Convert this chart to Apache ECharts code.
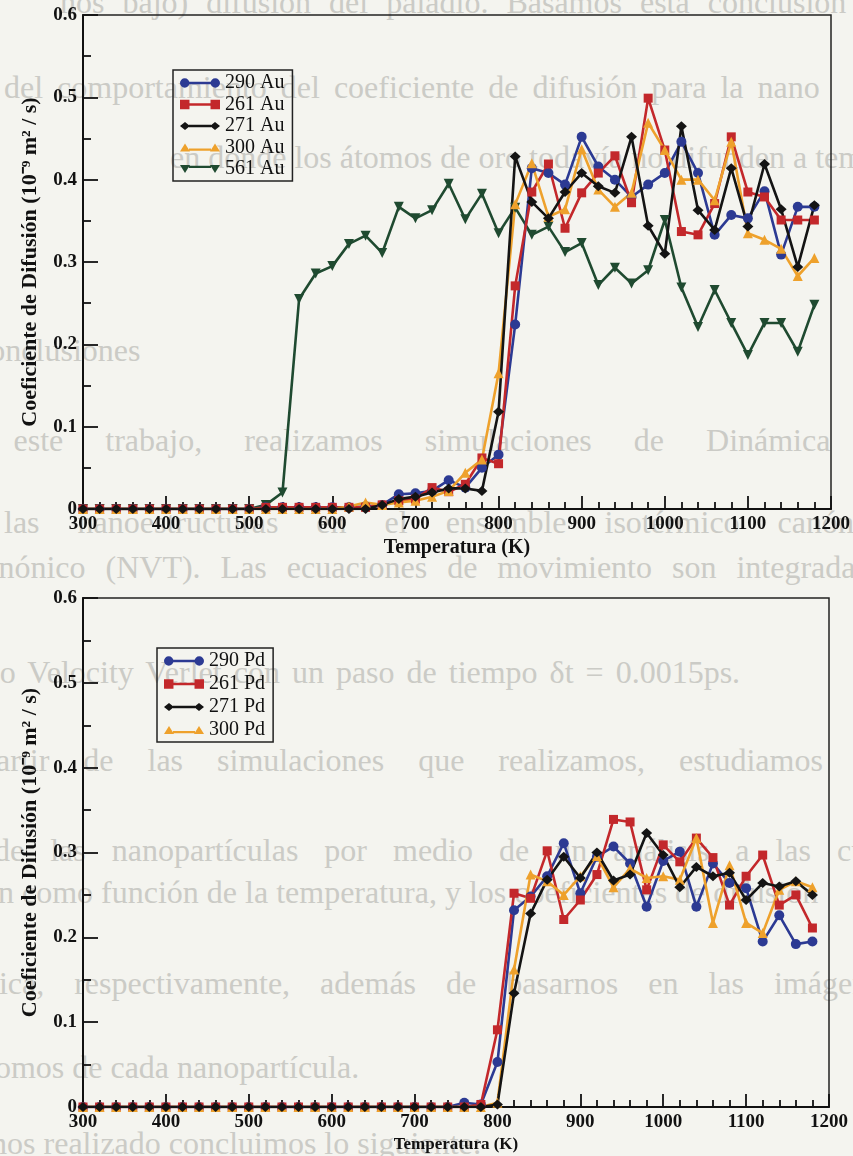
<!DOCTYPE html>
<html>
<head>
<meta charset="utf-8">
<title>Coeficiente de Difusión</title>
<script src="https://cdn.jsdelivr.net/npm/echarts@6/dist/echarts.min.js"></script>
<style>
  html, body { margin: 0; padding: 0; background: #f4f4ef; }
  #page { position: relative; width: 853px; height: 1156px; overflow: hidden; }
  .bg { position: absolute; white-space: nowrap; font-family: 'Liberation Serif', serif;
        font-size: 32px; color: #cbcbc6; line-height: 36px; }
  #chart { position: absolute; left: 0; top: 0; width: 853px; height: 1156px; }
</style>
</head>
<body>
<div id="page">
  <!-- faded text of the scanned page behind the figure -->
  <div class="bg" style="left:60px;top:-16px;word-spacing:10px">ños bajo) difusión del paladio. Basamos esta conclusión</div>
  <div class="bg" style="left:4px;top:69px;word-spacing:6px">del comportamiento del coeficiente de difusión para la nano</div>
  <div class="bg" style="left:170px;top:139px">en donde los átomos de oro todavía no difunden a temperatura</div>
  <div class="bg" style="left:-32px;top:332px">Conclusiones</div>
  <div class="bg" style="left:-64px;top:422px;word-spacing:34px">En este trabajo, realizamos simulaciones de Dinámica Molecular</div>
  <div class="bg" style="left:4px;top:504px;word-spacing:30px">las nanoestructuras en el ensamble isotérmico canónico</div>
  <div class="bg" style="left:-30px;top:549px;word-spacing:12px">canónico (NVT). Las ecuaciones de movimiento son integradas</div>
  <div class="bg" style="left:-34px;top:654px;word-spacing:4px">tipo Velocity Verlet con un paso de tiempo δt = 0.0015ps.</div>
  <div class="bg" style="left:-20px;top:742px;word-spacing:26px">partir de las simulaciones que realizamos, estudiamos la</div>
  <div class="bg" style="left:-6px;top:832px;word-spacing:18px">de las nanopartículas por medio de un análisis a las curvas</div>
  <div class="bg" style="left:-18px;top:874px">ón como función de la temperatura, y los coeficientes de difusión</div>
  <div class="bg" style="left:-26px;top:965px;word-spacing:22px">mica, respectivamente, además de basarnos en las imágenes</div>
  <div class="bg" style="left:-14px;top:1049px">tomos de cada nanopartícula.</div>
  <div class="bg" style="left:-32px;top:1125px">emos realizado concluimos lo siguiente:</div>
  <div id="chart"></div>
</div>
<script>
// Temperatures (K), one point every 20 K
const temps = [300, 320, 340, 360, 380, 400, 420, 440, 460, 480, 500, 520, 540, 560, 580,
  600, 620, 640, 660, 680, 700, 720, 740, 760, 780, 800, 820, 840, 860, 880,
  900, 920, 940, 960, 980, 1000, 1020, 1040, 1060, 1080, 1100, 1120, 1140, 1160, 1180];

// Gold nanoparticles (top panel)
const au290 = [0, 0, 0, 0, 0, 0, 0, 0, 0, 0, 0, 0.002, 0.002, 0.002, 0.002,
  0.002, 0.002, 0.003, 0.005, 0.018, 0.019, 0.022, 0.035, 0.026, 0.05, 0.066, 0.224, 0.414, 0.408, 0.394,
  0.452, 0.416, 0.400, 0.379, 0.394, 0.408, 0.446, 0.408, 0.333, 0.357, 0.353, 0.386, 0.309, 0.367, 0.367];
const au261 = [0, 0, 0, 0, 0, 0, 0, 0, 0, 0, 0, 0.002, 0.002, 0.002, 0.002,
  0.002, 0.002, 0.002, 0.005, 0.01, 0.012, 0.026, 0.021, 0.03, 0.062, 0.055, 0.271, 0.385, 0.419, 0.341,
  0.384, 0.408, 0.429, 0.372, 0.499, 0.436, 0.337, 0.333, 0.371, 0.452, 0.385, 0.379, 0.351, 0.351, 0.351];
const au271 = [0, 0, 0, 0, 0, 0, 0, 0, 0, 0, 0, 0, 0, 0, 0,
  0, 0, 0, 0.005, 0.012, 0.015, 0.02, 0.025, 0.025, 0.022, 0.118, 0.428, 0.373, 0.353, 0.385,
  0.408, 0.392, 0.384, 0.452, 0.344, 0.31, 0.465, 0.363, 0.339, 0.414, 0.343, 0.419, 0.364, 0.294, 0.369];
const au300 = [0, 0, 0, 0, 0, 0, 0, 0, 0, 0, 0, 0, 0, 0, 0,
  0, 0.003, 0.008, 0.005, 0.008, 0.01, 0.015, 0.022, 0.044, 0.06, 0.165, 0.37, 0.42, 0.355, 0.364,
  0.437, 0.388, 0.367, 0.384, 0.469, 0.436, 0.40, 0.40, 0.375, 0.446, 0.335, 0.327, 0.316, 0.283, 0.305];
const au561 = [0, 0, 0, 0, 0, 0, 0, 0, 0, 0, 0, 0.005, 0.02, 0.255, 0.286,
  0.295, 0.322, 0.332, 0.311, 0.367, 0.353, 0.363, 0.395, 0.352, 0.383, 0.335, 0.366, 0.333, 0.343, 0.312,
  0.323, 0.272, 0.293, 0.274, 0.290, 0.351, 0.269, 0.221, 0.266, 0.226, 0.187, 0.226, 0.226, 0.191, 0.248];

// Palladium nanoparticles (bottom panel)
const pd290 = [0, 0, 0, 0, 0, 0, 0, 0, 0, 0, 0, 0, 0, 0, 0,
  0, 0, 0, 0, 0, 0, 0, 0, 0.005, 0.003, 0.053, 0.232, 0.248, 0.272, 0.311,
  0.252, 0.295, 0.307, 0.287, 0.236, 0.29, 0.301, 0.236, 0.287, 0.264, 0.258, 0.195, 0.226, 0.192, 0.195];
const pd261 = [0, 0, 0, 0, 0, 0, 0, 0, 0, 0, 0, 0, 0, 0, 0,
  0, 0, 0, 0, 0, 0, 0, 0, 0, 0.003, 0.091, 0.252, 0.246, 0.302, 0.221,
  0.244, 0.274, 0.339, 0.336, 0.256, 0.309, 0.289, 0.317, 0.294, 0.238, 0.272, 0.297, 0.238, 0.25, 0.211];
const pd271 = [0, 0, 0, 0, 0, 0, 0, 0, 0, 0, 0, 0, 0, 0, 0,
  0, 0, 0, 0, 0, 0, 0, 0, 0, 0, 0.003, 0.134, 0.228, 0.268, 0.295,
  0.27, 0.30, 0.267, 0.274, 0.323, 0.297, 0.259, 0.283, 0.272, 0.276, 0.244, 0.264, 0.26, 0.266, 0.25];
const pd300 = [0, 0, 0, 0, 0, 0, 0, 0, 0, 0, 0, 0, 0, 0, 0,
  0, 0, 0, 0, 0, 0, 0, 0, 0, 0, 0.005, 0.162, 0.274, 0.266, 0.25,
  0.272, 0.296, 0.259, 0.281, 0.27, 0.272, 0.268, 0.317, 0.217, 0.285, 0.217, 0.205, 0.256, 0.266, 0.259];

const xTicks = [300, 400, 500, 600, 700, 800, 900, 1000, 1100, 1200];
const yTicks = [0, 0.1, 0.2, 0.3, 0.4, 0.5, 0.6];

const SERIF = "'Liberation Serif', 'Times New Roman', serif";
const colors = { blue: '#2c3a93', red: '#c3282b', black: '#141414', orange: '#eea12c', green: '#1f4a30' };

// legend icons: marker - line - marker
const icons = {
    circle: 'path://M1,5.5A4.5,4.5 0 1,1 10,5.5A4.5,4.5 0 1,1 1,5.5Z M9,4.3L31,4.3L31,6.7L9,6.7Z M30,5.5A4.5,4.5 0 1,1 39,5.5A4.5,4.5 0 1,1 30,5.5Z',
    rect: 'path://M1,1L10,1L10,10L1,10Z M9,4.3L31,4.3L31,6.7L9,6.7Z M30,1L39,1L39,10L30,10Z',
    diamond: 'path://M0,5.5L5,1.5L10,5.5L5,9.5Z M9,4.3L31,4.3L31,6.7L9,6.7Z M30,5.5L35,1.5L40,5.5L35,9.5Z',
    triangle: 'path://M0,10L5,2L10,10Z M9,7L31,7L31,9.2L9,9.2Z M30,10L35,2L40,10Z',
    down: 'path://M0,1L10,1L5,9Z M9,1.8L31,1.8L31,4L9,4Z M30,1L40,1L35,9Z'
};

function pairs(ys) {
    return temps.map((t, i) => [t, ys[i]]);
}

function makeSeries(name, ys, color, symbol, size, idx, extra) {
    return Object.assign({
        name: name,
        type: 'line',
        xAxisIndex: idx,
        yAxisIndex: idx,
        data: pairs(ys),
        symbol: symbol,
        symbolSize: size,
        showAllSymbol: true,
        color: color,
        lineStyle: { color: color, width: 2.6 },
        itemStyle: { color: color },
        animation: false
    }, extra || {});
}

function xAxisFor(idx, nameSize, nameGap) {
    return {
        type: 'value', gridIndex: idx, min: 300, max: 1200, interval: 100,
        name: 'Temperatura (K)', nameLocation: 'middle', nameGap: nameGap,
        nameTextStyle: { fontFamily: SERIF, fontWeight: 'bold', fontSize: nameSize, color: '#111' },
        axisLine: { lineStyle: { color: '#111', width: 2 } },
        axisTick: { inside: true, length: 13, lineStyle: { color: '#111', width: 1.8 } },
        minorTick: { show: true, splitNumber: 5, length: 7, lineStyle: { color: '#111', width: 1.8 } },
        splitLine: { show: false },
        axisLabel: {
            margin: 6, fontFamily: SERIF, fontWeight: 'bold', fontSize: 19, color: '#111',
            formatter: v => xTicks.indexOf(v) >= 0 ? String(v) : ''
        }
    };
}

function yAxisFor(idx) {
    return {
        type: 'value', gridIndex: idx, min: 0, max: 0.6, interval: 0.1,
        name: 'Coeficiente de Difusión (10⁻⁹ m² / s)', nameLocation: 'middle', nameGap: 42,
        nameTextStyle: { fontFamily: SERIF, fontWeight: 'bold', fontSize: 22, color: '#111' },
        axisLine: { lineStyle: { color: '#111', width: 2 } },
        axisTick: { inside: true, length: 15, lineStyle: { color: '#111', width: 1.8 } },
        minorTick: { show: true, splitNumber: 2, length: 8, lineStyle: { color: '#111', width: 1.8 } },
        splitLine: { show: false },
        axisLabel: {
            margin: 6, fontFamily: SERIF, fontWeight: 'bold', fontSize: 19, color: '#111',
            formatter: v => {
                const t = yTicks.find(y => Math.abs(y - v) < 1e-6);
                if (t === undefined) return '';
                return t === 0 ? '0' : t.toFixed(1);
            }
        }
    };
}

function legendFor(names, iconList, left, top, gap) {
    return {
        orient: 'vertical', left: left, top: top,
        data: names.map((n, i) => ({ name: n, icon: iconList[i] })),
        itemWidth: 40, itemHeight: 11, itemGap: gap,
        padding: [3, 8, 2, 7],
        backgroundColor: 'transparent',
        borderColor: '#222', borderWidth: 1.5, borderRadius: 0,
        selectedMode: false,
        textStyle: { fontFamily: SERIF, fontSize: 20, lineHeight: 18, color: '#111' }
    };
}

const chart = echarts.init(document.getElementById('chart'), null, { renderer: 'canvas' });

chart.setOption({
    backgroundColor: 'transparent',
    animation: false,
    grid: [
        { left: 83, top: 15, width: 748, height: 494, show: true, borderColor: '#222', borderWidth: 1.5, backgroundColor: 'transparent' },
        { left: 83, top: 598, width: 746, height: 509, show: true, borderColor: '#222', borderWidth: 1.5, backgroundColor: 'transparent' }
    ],
    xAxis: [xAxisFor(0, 20, 29), xAxisFor(1, 17, 29)],
    yAxis: [yAxisFor(0), yAxisFor(1)],
    legend: [
        legendFor(['290 Au', '261 Au', '271 Au', '300 Au', '561 Au'],
            [icons.circle, icons.rect, icons.diamond, icons.triangle, icons.down], 173, 70, 1.5),
        legendFor(['290 Pd', '261 Pd', '271 Pd', '300 Pd'],
            [icons.circle, icons.rect, icons.diamond, icons.triangle], 157, 648, 3)
    ],
    series: [
        makeSeries('561 Au', au561, colors.green, 'triangle', 10, 0, { symbolRotate: 180 }),
        makeSeries('290 Au', au290, colors.blue, 'circle', 10, 0),
        makeSeries('261 Au', au261, colors.red, 'rect', 9, 0),
        makeSeries('300 Au', au300, colors.orange, 'triangle', 10, 0),
        makeSeries('271 Au', au271, colors.black, 'diamond', [11, 10], 0),
        makeSeries('290 Pd', pd290, colors.blue, 'circle', 10, 1),
        makeSeries('261 Pd', pd261, colors.red, 'rect', 9, 1),
        makeSeries('300 Pd', pd300, colors.orange, 'triangle', 10, 1),
        makeSeries('271 Pd', pd271, colors.black, 'diamond', [11, 10], 1)
    ]
});

window.addEventListener('resize', function() {
    chart.resize();
});
</script>
</body>
</html>
